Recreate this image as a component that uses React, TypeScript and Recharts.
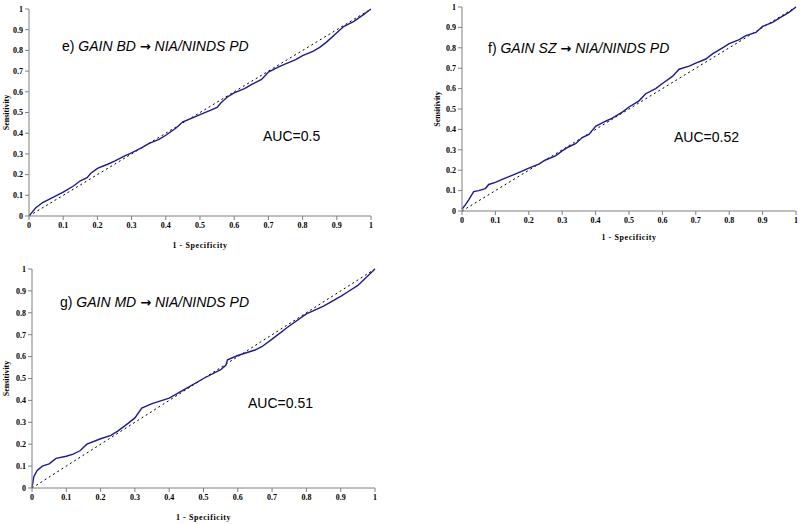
import { LineChart, Line, XAxis, YAxis } from 'recharts';

// shared axis ticks
const axisTicks = [0, 0.1, 0.2, 0.3, 0.4, 0.5, 0.6, 0.7, 0.8, 0.9, 1];
const tickLabels = ['0', '0.1', '0.2', '0.3', '0.4', '0.5', '0.6', '0.7', '0.8', '0.9', '1'];

// e) GAIN BD -> NIA/NINDS PD
const bdFpr = [0, 0.01, 0.02, 0.04, 0.07, 0.1, 0.13, 0.15, 0.17, 0.18, 0.2, 0.23, 0.25, 0.28, 0.3, 0.33, 0.35, 0.38, 0.4, 0.43, 0.45, 0.48, 0.5, 0.53, 0.55, 0.56, 0.58, 0.6, 0.63, 0.65, 0.68, 0.7, 0.73, 0.75, 0.78, 0.8, 0.83, 0.85, 0.87, 0.9, 0.92, 0.95, 0.98, 1];
const bdTpr = [0, 0.02, 0.04, 0.065, 0.09, 0.115, 0.145, 0.17, 0.185, 0.205, 0.23, 0.25, 0.265, 0.29, 0.305, 0.33, 0.35, 0.37, 0.39, 0.425, 0.455, 0.475, 0.49, 0.51, 0.525, 0.545, 0.575, 0.595, 0.615, 0.635, 0.66, 0.695, 0.72, 0.735, 0.755, 0.775, 0.795, 0.815, 0.84, 0.885, 0.915, 0.94, 0.975, 1];

// f) GAIN SZ -> NIA/NINDS PD
const szFpr = [0, 0.01, 0.02, 0.035, 0.05, 0.07, 0.08, 0.1, 0.12, 0.15, 0.18, 0.2, 0.23, 0.25, 0.28, 0.3, 0.32, 0.34, 0.36, 0.38, 0.4, 0.43, 0.45, 0.48, 0.5, 0.53, 0.55, 0.58, 0.6, 0.63, 0.65, 0.68, 0.7, 0.73, 0.75, 0.78, 0.8, 0.83, 0.85, 0.88, 0.9, 0.93, 0.95, 0.98, 1];
const szTpr = [0.01, 0.03, 0.055, 0.095, 0.1, 0.11, 0.13, 0.14, 0.155, 0.175, 0.195, 0.21, 0.23, 0.25, 0.27, 0.295, 0.315, 0.33, 0.36, 0.375, 0.415, 0.44, 0.455, 0.485, 0.51, 0.54, 0.575, 0.6, 0.625, 0.66, 0.695, 0.71, 0.725, 0.745, 0.77, 0.8, 0.82, 0.84, 0.86, 0.875, 0.905, 0.925, 0.945, 0.975, 1];

// g) GAIN MD -> NIA/NINDS PD
const mdFpr = [0, 0.005, 0.015, 0.03, 0.05, 0.07, 0.1, 0.12, 0.14, 0.16, 0.2, 0.23, 0.25, 0.28, 0.3, 0.32, 0.35, 0.4, 0.45, 0.5, 0.55, 0.565, 0.57, 0.6, 0.65, 0.67, 0.7, 0.75, 0.8, 0.85, 0.9, 0.92, 0.95, 1];
const mdTpr = [0, 0.05, 0.08, 0.1, 0.11, 0.135, 0.145, 0.155, 0.17, 0.2, 0.225, 0.24, 0.26, 0.295, 0.32, 0.365, 0.385, 0.41, 0.455, 0.5, 0.54, 0.56, 0.585, 0.605, 0.63, 0.645, 0.68, 0.74, 0.795, 0.83, 0.875, 0.895, 0.925, 1];

// chance diagonal
const chanceFpr = [0, 1];
const chanceTpr = [0, 1];

const zip = (xs: number[], ys: number[]) => xs.map((x, i) => ({ fpr: x, tpr: ys[i] }));
const chance = zip(chanceFpr, chanceTpr);

const fmt = (v: number) => tickLabels[axisTicks.indexOf(v)] ?? String(v);

interface PanelProps {
  left: number;
  top: number;
  width: number;
  height: number;
  plotLeft: number;
  plotTop: number;
  plotRight: number;
  plotBottom: number;
  data: { fpr: number; tpr: number }[];
  tag: string;
  source: string;
  target: string;
  titleX: number;
  titleY: number;
  auc: string;
  aucX: number;
  aucY: number;
  xTitleOffset: number;
  yTitleX: number;
}

function RocPanel(p: PanelProps) {
  const tickStyle = { fontSize: 8, fontFamily: 'Liberation Serif', fontWeight: 'bold', fill: '#000', stroke: 'none' };
  const gray = { stroke: '#808080', strokeWidth: 1 };
  const textStyle: React.CSSProperties = {
    position: 'absolute',
    fontFamily: 'Liberation Sans, Arial, sans-serif',
    fontSize: 14,
    lineHeight: 1,
    color: '#000',
    whiteSpace: 'nowrap',
  };
  return (
    <div style={{ position: 'absolute', left: p.left, top: p.top, width: p.width, height: p.height }}>
      <LineChart
        width={p.width}
        height={p.height}
        margin={{ top: p.plotTop, right: p.width - p.plotRight, left: 0, bottom: 0 }}
      >
        <XAxis
          type="number"
          dataKey="fpr"
          domain={[0, 1]}
          ticks={axisTicks}
          tickFormatter={fmt}
          tick={tickStyle}
          tickSize={4}
          height={p.height - p.plotBottom}
          axisLine={gray}
          tickLine={gray}
          allowDuplicatedCategory={false}
          label={{
            value: '1 - Specificity',
            position: 'insideBottom',
            offset: p.xTitleOffset,
            style: { fontSize: 8, fontFamily: 'Liberation Serif', fontWeight: 'bold', fill: '#000', letterSpacing: 0.6 },
          }}
        />
        <YAxis
          type="number"
          dataKey="tpr"
          domain={[0, 1]}
          ticks={axisTicks}
          tickFormatter={fmt}
          tick={tickStyle}
          tickSize={4}
          width={p.plotLeft}
          axisLine={gray}
          tickLine={gray}
          label={{
            value: 'Sensitivity',
            angle: -90,
            position: 'insideLeft',
            offset: p.yTitleX,
            style: { fontSize: 8, fontFamily: 'Liberation Serif', fontWeight: 'bold', fill: '#000', textAnchor: 'middle' },
          }}
        />
        <Line
          data={chance}
          dataKey="tpr"
          stroke="#000"
          strokeWidth={1}
          strokeDasharray="2 3"
          dot={false}
          activeDot={false}
          isAnimationActive={false}
        />
        <Line
          data={p.data}
          dataKey="tpr"
          type="linear"
          stroke="#1c1c8c"
          strokeWidth={1.4}
          dot={false}
          activeDot={false}
          isAnimationActive={false}
        />
      </LineChart>
      <div style={{ ...textStyle, left: p.titleX, top: p.titleY }}>
        {p.tag} <i>{p.source}</i>{' '}
        <span style={{ fontFamily: 'DejaVu Sans', fontWeight: 'bold', fontSize: 13 }}>→</span>{' '}
        <i>{p.target}</i>
      </div>
      <div style={{ ...textStyle, left: p.aucX, top: p.aucY }}>{p.auc}</div>
    </div>
  );
}

export default function App() {
  return (
    <div style={{ position: 'absolute', left: 0, top: 0, width: 800, height: 524, background: '#fff' }}>
      <RocPanel
        left={0}
        top={0}
        width={380}
        height={250}
        plotLeft={29}
        plotTop={9}
        plotRight={371}
        plotBottom={216}
        data={zip(bdFpr, bdTpr)}
        tag="e)"
        source="GAIN BD"
        target="NIA/NINDS PD"
        titleX={62}
        titleY={39}
        auc="AUC=0.5"
        aucX={263}
        aucY={129}
        xTitleOffset={2}
        yTitleX={6}
      />
      <RocPanel
        left={420}
        top={0}
        width={380}
        height={250}
        plotLeft={42}
        plotTop={7}
        plotRight={376}
        plotBottom={211}
        data={zip(szFpr, szTpr)}
        tag="f)"
        source="GAIN SZ"
        target="NIA/NINDS PD"
        titleX={68}
        titleY={41}
        auc="AUC=0.52"
        aucX={254}
        aucY={130}
        xTitleOffset={10}
        yTitleX={17}
      />
      <RocPanel
        left={0}
        top={260}
        width={390}
        height={264}
        plotLeft={32}
        plotTop={9}
        plotRight={375}
        plotBottom={228}
        data={zip(mdFpr, mdTpr)}
        tag="g)"
        source="GAIN MD"
        target="NIA/NINDS PD"
        titleX={60}
        titleY={35}
        auc="AUC=0.51"
        aucX={248}
        aucY={136}
        xTitleOffset={4}
        yTitleX={6}
      />
    </div>
  );
}
